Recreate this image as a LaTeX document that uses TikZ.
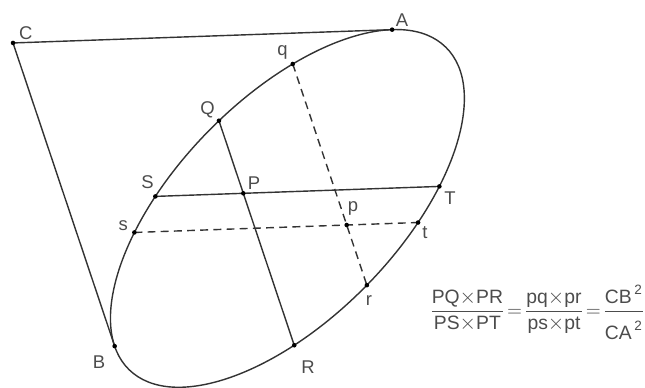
\documentclass[tikz,border=0pt]{standalone}
\usepackage{amsmath}
\usepackage{fontspec}
\setmainfont{Liberation Sans}
\usetikzlibrary{calc,intersections}
\newcommand{\tms}{{\text{\large$\times$}}}
\begin{document}
\begin{tikzpicture}[x=0.02cm,y=0.02cm,line width=0.8pt,
  every node/.style={font=\fontsize{10.5}{12}\selectfont,text=black!70},
  chord/.style={draw=black!80},
  dchord/.style={draw=black!80,dash pattern=on 4.5pt off 3pt}]
\useasboundingbox (0,0) rectangle (645,387);
\begin{scope}[shift={(287.4,178.6)},rotate=45.5]
\draw[black!80,name path global=ell] (0,0) ellipse [x radius=226,y radius=110.5];
\coordinate (A) at (27.27:226 and 110.5);
\coordinate (B) at (166.03:226 and 110.5);
\coordinate (C) at ({226*cos(96.65)/cos(69.38)},{110.5*sin(96.65)/cos(69.38)});
\end{scope}
\coordinate (P) at (243.3,193.7);
\coordinate (p) at (346.7,162);
\path[name path=lST] ($(P)-(A)+(C)$) -- ($(P)+(A)-(C)$);
\path[name path=lQR] ($(P)-(B)+(C)$) -- ($(P)+(B)-(C)$);
\path[name path=lst] ($(p)-(A)+(C)$) -- ($(p)+(A)-(C)$);
\path[name path=lqr] ($(p)-(B)+(C)$) -- ($(p)+(B)-(C)$);
\path[name intersections={of=ell and lST,sort by=lST,by={S,T}}];
\path[name intersections={of=ell and lQR,sort by=lQR,by={Q,R}}];
\path[name intersections={of=ell and lst,sort by=lst,by={s,t}}];
\path[name intersections={of=ell and lqr,sort by=lqr,by={q,r}}];
\draw[chord] (C) -- (A) (C) -- (B) (S) -- (T) (Q) -- (R);
\draw[dchord] (s) -- (t) (q) -- (r);
\foreach \pt in {A,B,C,Q,R,S,T,P,q,r,s,t,p} \fill (\pt) circle (1.3pt);
\foreach \pt/\x/\y in {C/25.8/353.7,A/402/367,q/282.5/334.5,Q/207.5/277,S/147.5/204.5,
  P/254/204,T/450/189,s/123.3/161.2,t/425/154.5,p/353/179,r/369/86,R/308/20.3,B/99/25}
  \node (l\pt) at (\x,\y) {\pt};
\node[anchor=base west,inner sep=0pt,font=\fontsize{11}{13}\selectfont] (eq) at (429,70.6)
  {$\dfrac{\text{PQ}\tms\text{PR}}{\text{PS}\tms\text{PT}}\!=\!
    \dfrac{\text{pq}\tms\text{pr}}{\text{ps}\tms\text{pt}}\!=\!
    \dfrac{\text{CB}^{\,\text{2}\vphantom{\big|}}}{\text{CA}^{\,\text{2}\vphantom{\big|}}}$};
\end{tikzpicture}
\end{document}
